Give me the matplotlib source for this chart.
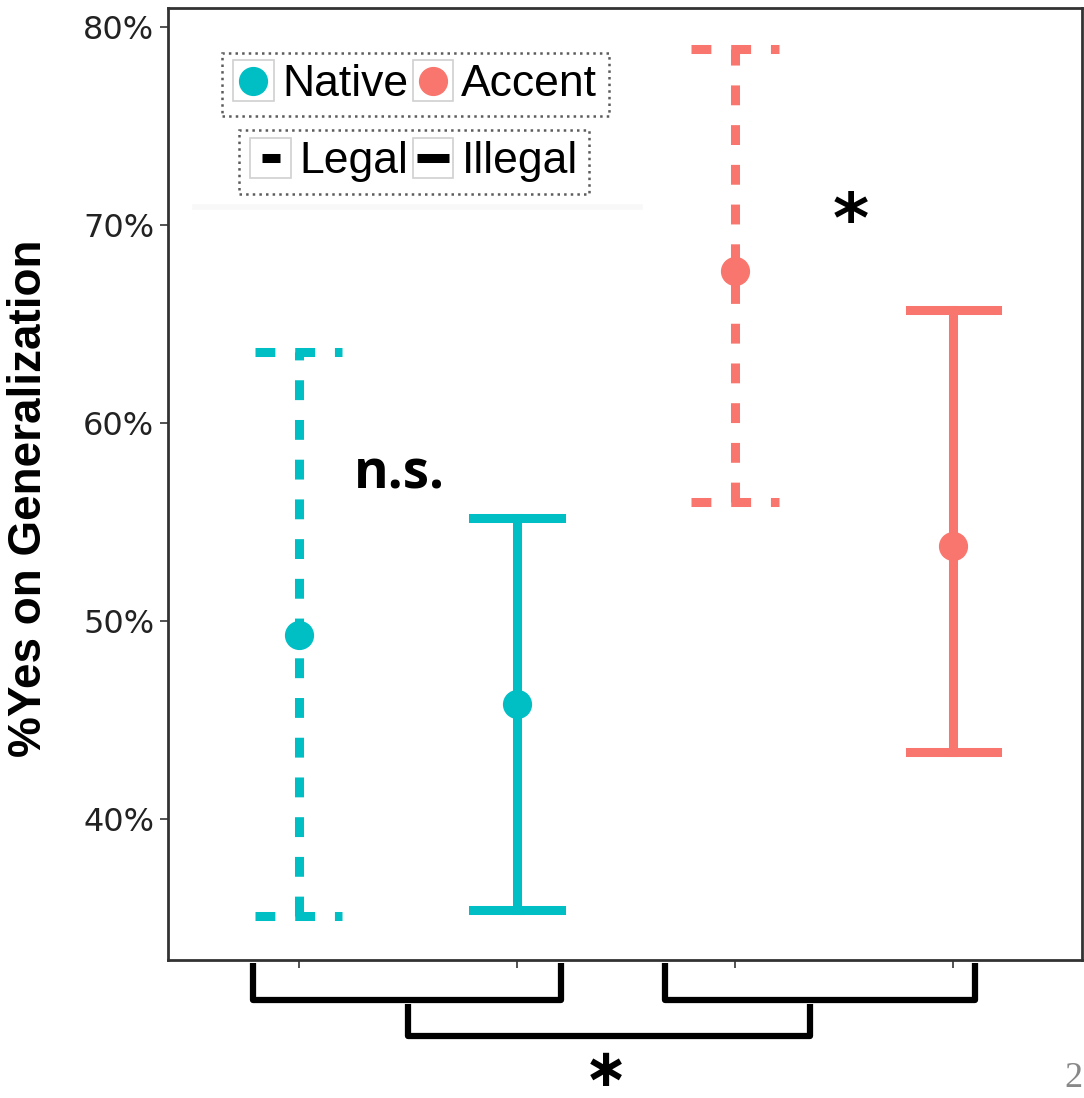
import numpy as np
import matplotlib
matplotlib.use('Agg')
import matplotlib.pyplot as plt
from matplotlib.lines import Line2D
from matplotlib.patches import Rectangle
from matplotlib.legend_handler import HandlerBase
import matplotlib.transforms as mtransforms

# datos
groups = ['Native', 'Native', 'Accent', 'Accent']
conditions = ['Legal', 'Illegal', 'Legal', 'Illegal']
means = [49.3, 45.8, 67.7, 53.8]
lower = [35.1, 35.4, 56.0, 43.4]
upper = [63.6, 55.2, 78.9, 65.7]
yticks = [40, 50, 60, 70, 80]

colors = {'Native': '#00BFC4', 'Accent': '#F8766D'}
styles = {'Legal': (0, (2.2, 2.2)), 'Illegal': '-'}


class BoxHandler(HandlerBase):
    # dibuja el cuadrado gris de ggplot detras de cada simbolo
    def __init__(self, kind, color, width):
        super().__init__()
        self.kind = kind
        self.color = color
        self.width = width

    def create_artists(self, legend, orig_handle, xdescent, ydescent, width, height, fontsize, trans):
        size = height * 1.2
        y0 = -ydescent + (height - size) / 2
        box = Rectangle((-xdescent, y0), size, size, facecolor='white',
                        edgecolor='#d0d0d0', lw=1.2, transform=trans)
        cx = -xdescent + size / 2
        cy = y0 + size / 2
        if self.kind == 'marker':
            art = Line2D([cx], [cy], marker='o', ms=20, color=self.color, ls='none', transform=trans)
        else:
            art = Line2D([cx - self.width * size, cx + self.width * size], [cy, cy],
                         color='black', lw=6.5, solid_capstyle='butt', transform=trans)
        return [box, art]


fig = plt.figure(figsize=(10.84, 10.98), dpi=100)
ax = fig.add_axes([0.155, 0.1257, 0.843, 0.867])

x = np.arange(1, len(means) + 1)
cap = 0.2
for xi, g, c, m, lo, hi in zip(x, groups, conditions, means, lower, upper):
    col = colors[g]
    ls = styles[c]
    ax.plot([xi, xi], [lo, hi], color=col, lw=6.5, ls=ls, dash_capstyle='butt')
    ax.plot([xi - cap, xi + cap], [hi, hi], color=col, lw=6.5, ls=ls, dash_capstyle='butt')
    ax.plot([xi - cap, xi + cap], [lo, lo], color=col, lw=6.5, ls=ls, dash_capstyle='butt')
    ax.plot([xi], [m], marker='o', ms=20, color=col, ls='none', zorder=5)

ax.set_xlim(0.4, 4.59)
ax.set_ylim(32.87, 80.96)
ax.set_xticks(x)
ax.set_xticklabels([])
ax.set_yticks(yticks)
ax.set_yticklabels([f'{v}%' for v in yticks], fontsize=23, family='DejaVu Sans', color='#222222')
ax.tick_params(length=6, width=1.3, color='#444444', pad=4)
for s in ax.spines.values():
    s.set_linewidth(2)
    s.set_color('#333333')

ax.set_ylabel('%Yes on Generalization', fontsize=33, family='Liberation Sans', fontweight='bold')
ax.yaxis.set_label_coords(-0.128, 0.485)

# leyendas
h1 = [Line2D([], []), Line2D([], [])]
leg1 = ax.legend(h1, ['Native', 'Accent'], ncol=2, loc='upper left', bbox_to_anchor=(0.059, 0.953),
                 borderaxespad=0, borderpad=0.25, columnspacing=0.1, handletextpad=0.15,
                 handlelength=0.95, handleheight=0.8, fancybox=False,
                 prop={'family': 'Liberation Sans', 'size': 32},
                 handler_map={h1[0]: BoxHandler('marker', colors['Native'], 0),
                              h1[1]: BoxHandler('marker', colors['Accent'], 0)})
leg1.get_frame().set_edgecolor('#333333')
leg1.get_frame().set_linestyle(':')
leg1.get_frame().set_linewidth(1.8)
ax.add_artist(leg1)

h2 = [Line2D([], []), Line2D([], [])]
leg2 = ax.legend(h2, ['Legal', 'Illegal'], ncol=2, loc='upper left', bbox_to_anchor=(0.078, 0.872),
                 borderaxespad=0, borderpad=0.25, columnspacing=0.1, handletextpad=0.15,
                 handlelength=0.95, handleheight=0.8, fancybox=False,
                 prop={'family': 'Liberation Sans', 'size': 32},
                 handler_map={h2[0]: BoxHandler('line', 'black', 0.22),
                              h2[1]: BoxHandler('line', 'black', 0.4)})
leg2.get_frame().set_edgecolor('#333333')
leg2.get_frame().set_linestyle(':')
leg2.get_frame().set_linewidth(1.8)

ax.plot([0.03, 0.516], [0.791, 0.791], transform=ax.transAxes, color='#f8f8f8', lw=4)

# anotaciones
ax.text(1.46, 57.4, 'n.s.', fontsize=38, fontweight='bold', family='Open Sans', ha='center', va='center')
ax.text(3.53, 70.1, '*', fontsize=50, fontweight='bold', family='DejaVu Sans', ha='center', va='center')

# llaves debajo del eje
trans = mtransforms.blended_transform_factory(ax.transData, ax.transAxes)
brackets = [(0.79, 2.2, -0.003, -0.042), (2.68, 4.1, -0.003, -0.042), (1.5, 3.344, -0.046, -0.080)]
for x0, x1, ytop, ybot in brackets:
    ax.plot([x0, x0, x1, x1], [ytop, ybot, ybot, ytop], color='black', lw=4.5,
            transform=trans, clip_on=False, solid_joinstyle='round', solid_capstyle='butt')

fig.text(0.559, 0.001, '\u2217', fontsize=38, fontweight='bold', family='DejaVu Sans', ha='center', va='bottom')
fig.text(0.999, 0.003, '2', fontsize=26, color='#888888', family='Liberation Serif', ha='right', va='bottom')

fig.savefig('out.png', dpi=100)
